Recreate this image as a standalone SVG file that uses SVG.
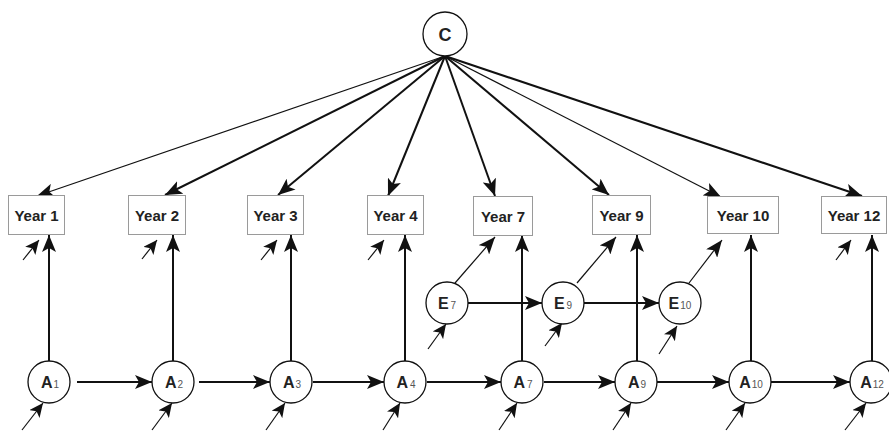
<svg xmlns="http://www.w3.org/2000/svg" width="889" height="431" viewBox="0 0 889 431">
<defs>
<marker id="ah" markerUnits="userSpaceOnUse" markerWidth="18" markerHeight="14" refX="17" refY="7" orient="auto">
<path d="M0,0 L17,7 L0,14 L4,7 z" fill="#111"/>
</marker>
<marker id="ahs" markerUnits="userSpaceOnUse" markerWidth="15" markerHeight="13" refX="14" refY="6.5" orient="auto">
<path d="M0,0 L14,6.5 L0,13 L3.5,6.5 z" fill="#111"/>
</marker>
<style>
.box{fill:#fff;stroke:#9a9a9a;stroke-width:1}
.circ{fill:#fff;stroke:#111;stroke-width:1.3}
.yt{font-family:"Liberation Sans",Arial,sans-serif;font-weight:bold;font-size:15px;fill:#222;text-anchor:middle}
.nt{font-family:"Liberation Sans",Arial,sans-serif;font-weight:bold;font-size:16px;fill:#222;text-anchor:middle}
.sub{font-weight:normal;font-size:10px;fill:#555}
.thick{stroke:#111;stroke-width:2;fill:none;marker-end:url(#ah)}
.thin{stroke:#111;stroke-width:1.2;fill:none;marker-end:url(#ah)}
.err{stroke:#111;stroke-width:1.2;fill:none;marker-end:url(#ahs)}
</style>
</defs>
<g id="connectors">
<line class="thin" x1="445" y1="56" x2="37" y2="196"/>
<line class="thick" x1="445" y1="56" x2="165" y2="195"/>
<line class="thick" x1="445" y1="56" x2="278" y2="195"/>
<line class="thick" x1="445" y1="56" x2="388" y2="196"/>
<line class="thick" x1="445" y1="56" x2="495" y2="196"/>
<line class="thick" x1="445" y1="56" x2="609" y2="195"/>
<line class="thin" x1="445" y1="56" x2="721" y2="197"/>
<line class="thick" x1="445" y1="56" x2="862" y2="196"/>
<line class="thick" x1="49" y1="361" x2="49" y2="235"/>
<line class="thick" x1="173" y1="361" x2="173" y2="235"/>
<line class="thick" x1="291" y1="361" x2="291" y2="235"/>
<line class="thick" x1="405" y1="361" x2="405" y2="235"/>
<line class="thick" x1="522" y1="361" x2="522" y2="235"/>
<line class="thick" x1="637" y1="361" x2="637" y2="235"/>
<line class="thick" x1="751" y1="361" x2="751" y2="235"/>
<line class="thick" x1="872" y1="361" x2="872" y2="235"/>
<line class="thick" x1="77" y1="382" x2="152" y2="382"/>
<line class="thick" x1="199" y1="382" x2="270" y2="382"/>
<line class="thick" x1="313" y1="382" x2="384" y2="382"/>
<line class="thick" x1="427" y1="382" x2="501" y2="382"/>
<line class="thick" x1="544" y1="382" x2="615" y2="382"/>
<line class="thick" x1="657" y1="382" x2="729" y2="382"/>
<line class="thick" x1="771" y1="382" x2="850" y2="382"/>
<line class="thick" x1="468" y1="303" x2="542" y2="303"/>
<line class="thick" x1="584" y1="303" x2="659" y2="303"/>
<line class="thin" x1="455" y1="283" x2="495" y2="237"/>
<line class="thin" x1="577" y1="283" x2="616" y2="237"/>
<line class="thin" x1="689" y1="283" x2="722" y2="240"/>
<line class="err" x1="23" y1="260" x2="39" y2="240"/>
<line class="err" x1="142" y1="259" x2="157" y2="240"/>
<line class="err" x1="261" y1="260" x2="277" y2="240"/>
<line class="err" x1="368" y1="260" x2="384" y2="240"/>
<line class="err" x1="836" y1="260" x2="851" y2="240"/>
<line class="err" x1="428" y1="349" x2="446" y2="324"/>
<line class="err" x1="545" y1="346" x2="562" y2="323"/>
<line class="err" x1="659" y1="354" x2="677" y2="326"/>
<line class="err" x1="22" y1="430" x2="43" y2="403"/>
<line class="err" x1="152" y1="430" x2="172" y2="403"/>
<line class="err" x1="266" y1="430" x2="285" y2="403"/>
<line class="err" x1="383" y1="430" x2="400" y2="403"/>
<line class="err" x1="499" y1="430" x2="517" y2="403"/>
<line class="err" x1="613" y1="430" x2="631" y2="403"/>
<line class="err" x1="726" y1="430" x2="745" y2="403"/>
<line class="err" x1="845" y1="430" x2="866" y2="403"/>
</g>
<g id="C"><circle class="circ" cx="445" cy="34" r="22"/><text class="nt" x="445" y="41" style="font-size:18px">C</text></g>
<g id="Y1"><rect class="box" x="8.5" y="195.5" width="56" height="39"/><text class="yt" x="36.5" y="221">Year 1</text></g>
<g id="Y2"><rect class="box" x="128.5" y="195.5" width="57" height="39"/><text class="yt" x="157" y="221">Year 2</text></g>
<g id="Y3"><rect class="box" x="247.5" y="195.5" width="56" height="39"/><text class="yt" x="275.5" y="221">Year 3</text></g>
<g id="Y4"><rect class="box" x="367.5" y="195.5" width="56" height="39"/><text class="yt" x="395.5" y="221">Year 4</text></g>
<g id="Y7"><rect class="box" x="473.5" y="196.5" width="59" height="39"/><text class="yt" x="503" y="222">Year 7</text></g>
<g id="Y9"><rect class="box" x="592.5" y="195.5" width="58" height="39"/><text class="yt" x="621.5" y="221">Year 9</text></g>
<g id="Y10"><rect class="box" x="707.5" y="196.5" width="71" height="37"/><text class="yt" x="743" y="221">Year 10</text></g>
<g id="Y12"><rect class="box" x="821.5" y="196.5" width="65" height="37"/><text class="yt" x="854" y="221">Year 12</text></g>
<g id="E7"><circle class="circ" cx="447" cy="303" r="21"/><text class="nt" x="447" y="309">E<tspan class="sub" dx="2">7</tspan></text></g>
<g id="E9"><circle class="circ" cx="563" cy="303" r="21"/><text class="nt" x="563" y="309">E<tspan class="sub" dx="2">9</tspan></text></g>
<g id="E10"><circle class="circ" cx="680" cy="303" r="21"/><text class="nt" x="680" y="309">E<tspan class="sub" dx="1">10</tspan></text></g>
<g id="A1"><circle class="circ" cx="49" cy="382" r="21"/><text class="nt" x="50" y="388">A<tspan class="sub" dx="1">1</tspan></text></g>
<g id="A2"><circle class="circ" cx="173" cy="382" r="21"/><text class="nt" x="174" y="388">A<tspan class="sub" dx="1">2</tspan></text></g>
<g id="A3"><circle class="circ" cx="291" cy="382" r="21"/><text class="nt" x="292" y="388">A<tspan class="sub" dx="1">3</tspan></text></g>
<g id="A4"><circle class="circ" cx="405" cy="382" r="21"/><text class="nt" x="406" y="388">A<tspan class="sub" dx="2">4</tspan></text></g>
<g id="A7"><circle class="circ" cx="522" cy="382" r="21"/><text class="nt" x="523" y="388">A<tspan class="sub" dx="2">7</tspan></text></g>
<g id="A9"><circle class="circ" cx="636" cy="382" r="21"/><text class="nt" x="637" y="388">A<tspan class="sub" dx="1">9</tspan></text></g>
<g id="A10"><circle class="circ" cx="750" cy="382" r="21"/><text class="nt" x="751" y="388">A<tspan class="sub" dx="1">10</tspan></text></g>
<g id="A12"><circle class="circ" cx="871" cy="382" r="21"/><text class="nt" x="872" y="388">A<tspan class="sub" dx="1">12</tspan></text></g>
</svg>
